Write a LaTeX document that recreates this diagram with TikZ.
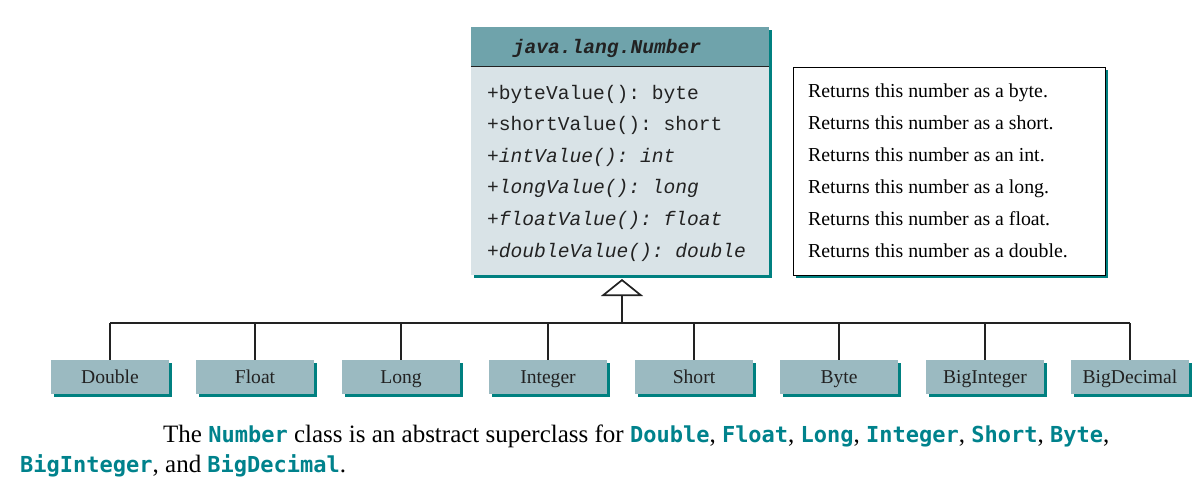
\documentclass[tikz,border=0pt]{standalone}
\usepackage{fontspec}
\setmainfont{Liberation Serif}
\setmonofont{Liberation Mono}
\newfontfamily\capfont{DejaVu Sans Mono}
\usetikzlibrary{arrows.meta,shadows}
\definecolor{headfill}{RGB}{111,163,171}
\definecolor{bodyfill}{RGB}{217,227,231}
\definecolor{childfill}{RGB}{155,186,193}
\definecolor{shadowc}{RGB}{0,128,128}
\definecolor{codec}{RGB}{0,130,140}
\definecolor{linec}{RGB}{34,34,34}
\newcommand\codeword[1]{{\capfont\bfseries\fontsize{22}{26}\selectfont\color{codec}#1}}
\begin{document}
\begin{tikzpicture}[x=1pt,y=-1pt,
  tshadow/.style={drop shadow={shadow xshift=3pt,shadow yshift=-3pt,fill=shadowc,opacity=1}},
  headbox/.style={fill=headfill,tshadow,minimum width=298pt,minimum height=39pt,inner sep=0pt},
  bodybox/.style={fill=bodyfill,tshadow,minimum width=298pt,minimum height=209pt,inner sep=0pt},
  notebox/.style={fill=white,draw=black,line width=1pt,tshadow,minimum width=312pt,minimum height=208pt,inner sep=0pt},
  childbox/.style={fill=childfill,tshadow,minimum width=118pt,minimum height=34pt,inner sep=0pt,
     text height=14pt,text depth=2pt,
     font=\fontsize{19.6}{24}\selectfont,text=linec},
  methodtxt/.style={anchor=base west,inner sep=0pt,font=\ttfamily\fontsize{19.6}{24}\selectfont,text=linec},
  notetxt/.style={anchor=base west,inner sep=0pt,font=\fontsize{19.8}{24}\selectfont,text=black},
  captxt/.style={anchor=base west,inner sep=0pt,font=\fontsize{25}{28}\selectfont,text=black},
  conn/.style={draw=linec,line width=1.7pt},
]
\useasboundingbox (0,0) rectangle (1204,485);

% main class box
\node[headbox] (head) at (620,46.5) {};
\node[bodybox] (body) at (620,170.5) {};
\draw[draw=linec,line width=1.2pt] (head.south west) -- (head.south east);
\node[anchor=base,inner sep=0pt,font=\ttfamily\bfseries\itshape\fontsize{19.6}{24}\selectfont,text=linec] (title) at (607,53) {java.lang.Number};

\node[methodtxt] (m1) at (487,99) {+byteValue(): byte};
\node[methodtxt] (m2) at (487,130.6) {+shortValue(): short};
\node[methodtxt,font=\ttfamily\itshape\fontsize{19.6}{24}\selectfont] (m3) at (487,162.2) {+intValue(): int};
\node[methodtxt,font=\ttfamily\itshape\fontsize{19.6}{24}\selectfont] (m4) at (487,193.8) {+longValue(): long};
\node[methodtxt,font=\ttfamily\itshape\fontsize{19.6}{24}\selectfont] (m5) at (487,225.4) {+floatValue(): float};
\node[methodtxt,font=\ttfamily\itshape\fontsize{19.6}{24}\selectfont] (m6) at (487,257) {+doubleValue(): double};

% note box
\node[notebox] (note) at (949,171) {};
\node[notetxt] (n1) at (808,97) {Returns this number as a byte.};
\node[notetxt] (n2) at (808,129) {Returns this number as a short.};
\node[notetxt] (n3) at (808,161) {Returns this number as an int.};
\node[notetxt] (n4) at (808,193) {Returns this number as a long.};
\node[notetxt] (n5) at (808,225) {Returns this number as a float.};
\node[notetxt] (n6) at (808,257) {Returns this number as a double.};

% subclasses
\node[childbox] (c1) at (110,377) {Double};
\node[childbox] (c2) at (255,377) {Float};
\node[childbox] (c3) at (401,377) {Long};
\node[childbox] (c4) at (548,377) {Integer};
\node[childbox] (c5) at (694,377) {Short};
\node[childbox] (c6) at (839,377) {Byte};
\node[childbox] (c7) at (985,377) {BigInteger};
\node[childbox] (c8) at (1130,377) {BigDecimal};

% connectors
\coordinate (bus) at (622,323);
\coordinate (apex) at (622,279);
\draw[conn] (c1.north |- bus) -- (c8.north |- bus);
\foreach \c in {c1,c2,c3,c4,c5,c6,c7,c8}{
  \draw[conn] (\c.north) -- (\c.north |- bus);
}
\draw[conn,-{Triangle[open,length=17pt,width=42pt,line width=1.7pt]}] (bus) -- (apex);

% caption
\node[captxt] (cap1) at (163,442) {The \codeword{Number} class is an abstract superclass for \codeword{Double}, \codeword{Float}, \codeword{Long}, \codeword{Integer}, \codeword{Short}, \codeword{Byte},};
\node[captxt] (cap2) at (20,472) {\codeword{BigInteger}, and \codeword{BigDecimal}.};
\end{tikzpicture}
\end{document}
